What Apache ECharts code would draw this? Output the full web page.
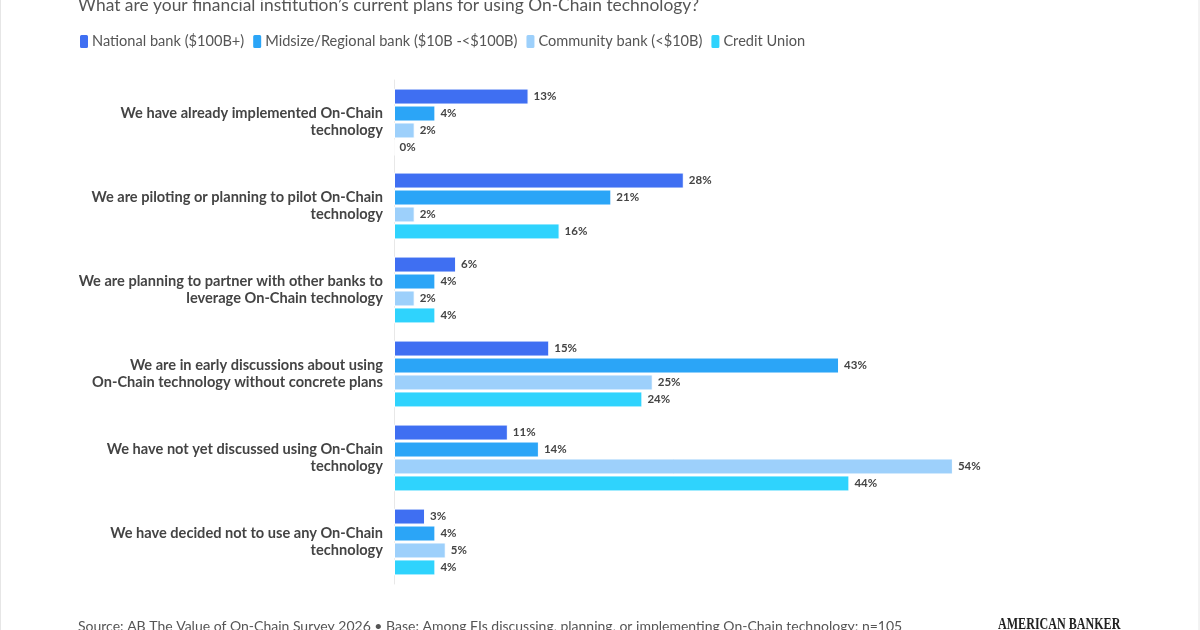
<!DOCTYPE html>
<html>
<head>
<meta charset="utf-8">
<title>On-Chain technology plans</title>
<script src="https://cdn.jsdelivr.net/npm/echarts@6/dist/echarts.min.js"></script>
<style>
  html, body { margin: 0; padding: 0; background: #fff; }
  #chart { width: 1200px; height: 630px; }
</style>
</head>
<body>
<div id="chart"></div>
<script>
const categories = [
  "We have already implemented On-Chain\ntechnology",
  "We are piloting or planning to pilot On-Chain\ntechnology",
  "We are planning to partner with other banks to\nleverage On-Chain technology",
  "We are in early discussions about using\nOn-Chain technology without concrete plans",
  "We have not yet discussed using On-Chain\ntechnology",
  "We have decided not to use any On-Chain\ntechnology"
]
const seriesNames = [
  "National bank ($100B+)",
  "Midsize/Regional bank ($10B -<$100B)",
  "Community bank (<$10B)",
  "Credit Union"
]
const national = [13, 28, 6, 15, 11, 3]
const midsize = [4, 21, 4, 43, 14, 4]
const community = [2, 2, 2, 25, 54, 5]
const creditUnion = [0, 16, 4, 24, 44, 4]
const colors = ["#3f6ff2", "#2ba5f7", "#9dd0fb", "#2fd3fd"]

const font = "Lato, 'Noto Sans', sans-serif"

const chart = echarts.init(document.getElementById("chart"))

const makeSeries = (name, data, i) => ({
  name: name,
  type: "bar",
  data: data,
  barWidth: 16,
  barGap: "6%",
  itemStyle: { color: colors[i], borderColor: "#fff", borderWidth: 1 },
  label: {
    show: true,
    position: "right",
    distance: 5,
    formatter: "{c}%",
    color: "#444",
    fontFamily: font,
    fontSize: 11.5,
    fontWeight: "bold"
  }
})

chart.setOption({
  animation: false,
  backgroundColor: "#fff",
  title: {
    text: "What are your financial institution’s current plans for using On-Chain technology?",
    left: 78,
    top: -3,
    padding: 0,
    textStyle: { fontFamily: font, fontSize: 17.4, fontWeight: "normal", color: "#555" }
  },
  legend: {
    left: 78,
    top: 33,
    padding: 0,
    icon: "roundRect",
    itemWidth: 10,
    itemHeight: 15,
    itemGap: 7,
    textStyle: { fontFamily: font, fontSize: 14.6, color: "#555", padding: [0, 0, 0, -2] },
    data: seriesNames
  },
  grid: { left: 394, top: 80, width: 621, height: 504 },
  xAxis: {
    type: "value",
    min: 0,
    max: 60,
    show: false
  },
  yAxis: {
    type: "category",
    inverse: true,
    data: categories,
    axisLine: { show: true, lineStyle: { color: "#e8e8e8" } },
    axisTick: { show: false },
    axisLabel: {
      margin: 11,
      fontFamily: font,
      fontSize: 14.6,
      fontWeight: "bold",
      color: "#444",
      lineHeight: 17,
      align: "right"
    }
  },
  series: [
    makeSeries(seriesNames[0], national, 0),
    makeSeries(seriesNames[1], midsize, 1),
    makeSeries(seriesNames[2], community, 2),
    makeSeries(seriesNames[3], creditUnion, 3)
  ],
  graphic: [
    {
      type: "rect",
      shape: { x: 0.5, y: -2, width: 1198.5, height: 640 },
      style: { fill: "none", stroke: "#e6e6e6", lineWidth: 1 },
      silent: true
    },
    {
      type: "text",
      left: 78,
      top: 619,
      style: {
        text: "Source: AB The Value of On-Chain Survey 2026 • Base: Among FIs discussing, planning, or implementing On-Chain technology; n=105",
        fontFamily: font,
        fontSize: 14,
        fill: "#555"
      }
    },
    {
      type: "text",
      x: 998,
      y: 616,
      scaleX: 0.71,
      style: {
        text: "AMERICAN BANKER",
        fontFamily: "'Liberation Serif', 'DejaVu Serif', serif",
        fontSize: 17,
        fontWeight: "bold",
        fill: "#222"
      }
    }
  ]
})

let canResize = true
const resizeObserver = new ResizeObserver(() => {
  if (!canResize) {
    return
  }
  canResize = false
  setTimeout(() => {
    chart.resize()
    canResize = true
  }, 300)
})
resizeObserver.observe(document.getElementById("chart"))
</script>
</body>
</html>
